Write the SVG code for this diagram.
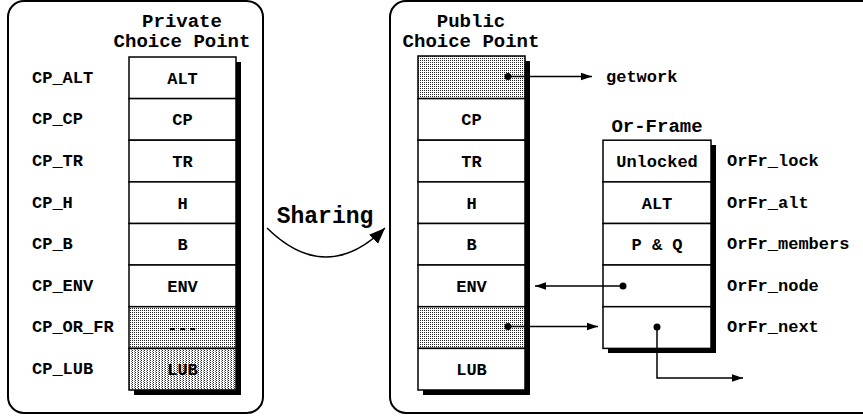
<svg xmlns="http://www.w3.org/2000/svg" width="863" height="417" viewBox="0 0 863 417">
<defs>
<pattern id="dots" width="2" height="2" patternUnits="userSpaceOnUse">
<rect width="2" height="2" fill="#ffffff"/>
<rect width="1" height="1" fill="#222222"/>
</pattern>
<pattern id="stripes" width="3" height="2" patternUnits="userSpaceOnUse">
<rect width="3" height="2" fill="#ffffff"/>
<rect width="1" height="1" fill="#222222"/>
<rect x="2" y="1" width="1" height="1" fill="#777777"/>
</pattern>
<marker id="arr" viewBox="0 0 10 10" refX="10" refY="5" markerWidth="11" markerHeight="11" markerUnits="userSpaceOnUse" orient="auto">
<path d="M0,1.5 L10,5 L0,8.5 Z" fill="#000"/>
</marker>
<marker id="arrbig" viewBox="0 0 10 10" refX="10" refY="5" markerWidth="16" markerHeight="16" markerUnits="userSpaceOnUse" orient="auto">
<path d="M0,1 L10,5 L0,9 Z" fill="#000"/>
</marker>
</defs>
<style>
text{font-family:"Liberation Mono","Courier New",monospace;font-weight:bold;fill:#000}
.t{font-size:17px}
.c{font-size:17px;text-anchor:middle}
.h{font-size:19px;text-anchor:middle}
.panel{fill:#fff;stroke:#000;stroke-width:2}
.cell{fill:#fff;stroke:#000;stroke-width:1.5}
.sh{fill:url(#dots);stroke:#000;stroke-width:1.5}
.sh2{fill:url(#stripes);stroke:#000;stroke-width:1.5}
.shadow{fill:#000}
.ln{fill:none;stroke:#000;stroke-width:1.5}
</style>

<g id="private-panel">
<rect class="panel" x="8" y="1" width="255" height="412" rx="16"/>
<text class="h" x="182" y="27">Private</text>
<text class="h" x="182" y="47">Choice Point</text>
<rect class="shadow" x="134" y="62" width="107" height="333"/>
<rect class="cell" x="129" y="57" width="107" height="41.6"/>
<rect class="cell" x="129" y="98.6" width="107" height="41.6"/>
<rect class="cell" x="129" y="140.2" width="107" height="41.7"/>
<rect class="cell" x="129" y="181.9" width="107" height="41.6"/>
<rect class="cell" x="129" y="223.5" width="107" height="41.5"/>
<rect class="cell" x="129" y="265" width="107" height="41.7"/>
<rect class="sh" x="129" y="306.7" width="107" height="41.7"/>
<rect class="sh2" x="129" y="348.4" width="107" height="41.6"/>
<text class="c" x="182.5" y="84">ALT</text>
<text class="c" x="182.5" y="125">CP</text>
<text class="c" x="182.5" y="167">TR</text>
<text class="c" x="182.5" y="209">H</text>
<text class="c" x="182.5" y="250">B</text>
<text class="c" x="182.5" y="292">ENV</text>
<text class="c" x="182.5" y="333">---</text>
<text class="c" x="182.5" y="375">LUB</text>
<text class="t" x="32" y="83">CP_ALT</text>
<text class="t" x="32" y="124">CP_CP</text>
<text class="t" x="32" y="166">CP_TR</text>
<text class="t" x="32" y="208">CP_H</text>
<text class="t" x="32" y="249">CP_B</text>
<text class="t" x="32" y="291">CP_ENV</text>
<text class="t" x="32" y="332">CP_OR_FR</text>
<text class="t" x="32" y="374">CP_LUB</text>
</g>

<g id="sharing">
<text x="325" y="223" style="font-size:23px;text-anchor:middle">Sharing</text>
</g>

<g id="public-panel">
<rect class="panel" x="390" y="1" width="490" height="412" rx="16"/>
<text class="h" x="471" y="27">Public</text>
<text class="h" x="471" y="47">Choice Point</text>
<rect class="shadow" x="423" y="61" width="107" height="334"/>
<rect class="sh" x="418" y="56" width="107" height="42.6"/>
<rect class="cell" x="418" y="98.6" width="107" height="41.6"/>
<rect class="cell" x="418" y="140.2" width="107" height="41.7"/>
<rect class="cell" x="418" y="181.9" width="107" height="41.6"/>
<rect class="cell" x="418" y="223.5" width="107" height="41.5"/>
<rect class="cell" x="418" y="265" width="107" height="41.7"/>
<rect class="sh" x="418" y="306.7" width="107" height="41.7"/>
<rect class="cell" x="418" y="348.4" width="107" height="41.6"/>
<text class="c" x="471.5" y="125">CP</text>
<text class="c" x="471.5" y="167">TR</text>
<text class="c" x="471.5" y="209">H</text>
<text class="c" x="471.5" y="250">B</text>
<text class="c" x="471.5" y="292">ENV</text>
<text class="c" x="471.5" y="375">LUB</text>
</g>

<g id="or-frame">
<text class="h" x="657" y="132">Or-Frame</text>
<rect class="shadow" x="608" y="145" width="108" height="208"/>
<rect class="cell" x="603" y="140.2" width="108" height="41.7"/>
<rect class="cell" x="603" y="181.9" width="108" height="41.6"/>
<rect class="cell" x="603" y="223.5" width="108" height="41.5"/>
<rect class="cell" x="603" y="265" width="108" height="41.7"/>
<rect class="cell" x="603" y="306.7" width="108" height="41.7"/>
<text class="c" x="657" y="167">Unlocked</text>
<text class="c" x="657" y="209">ALT</text>
<text class="c" x="657" y="250" xml:space="preserve">P &amp; Q</text>
<text class="t" x="727" y="166">OrFr_lock</text>
<text class="t" x="727" y="208">OrFr_alt</text>
<text class="t" x="727" y="249">OrFr_members</text>
<text class="t" x="727" y="291">OrFr_node</text>
<text class="t" x="727" y="332">OrFr_next</text>
</g>

<g id="getwork">
<text class="t" x="606" y="82">getwork</text>
</g>

<g id="connectors">
<path class="ln" d="M267,228 Q326,286 385,228" stroke-width="2.5" marker-end="url(#arrbig)"/>
<circle cx="508" cy="76.5" r="3.5"/>
<line class="ln" x1="508" y1="76.5" x2="592" y2="76.5" marker-end="url(#arr)"/>
<circle cx="623" cy="286" r="3.5"/>
<line class="ln" x1="623" y1="286" x2="535" y2="286" marker-end="url(#arr)"/>
<circle cx="508" cy="326.5" r="3.5"/>
<line class="ln" x1="508" y1="326.5" x2="598" y2="326.5" marker-end="url(#arr)"/>
<circle cx="657" cy="327" r="3.5"/>
<polyline class="ln" points="657,327 657,378 743,378" marker-end="url(#arr)"/>
</g>
</svg>
